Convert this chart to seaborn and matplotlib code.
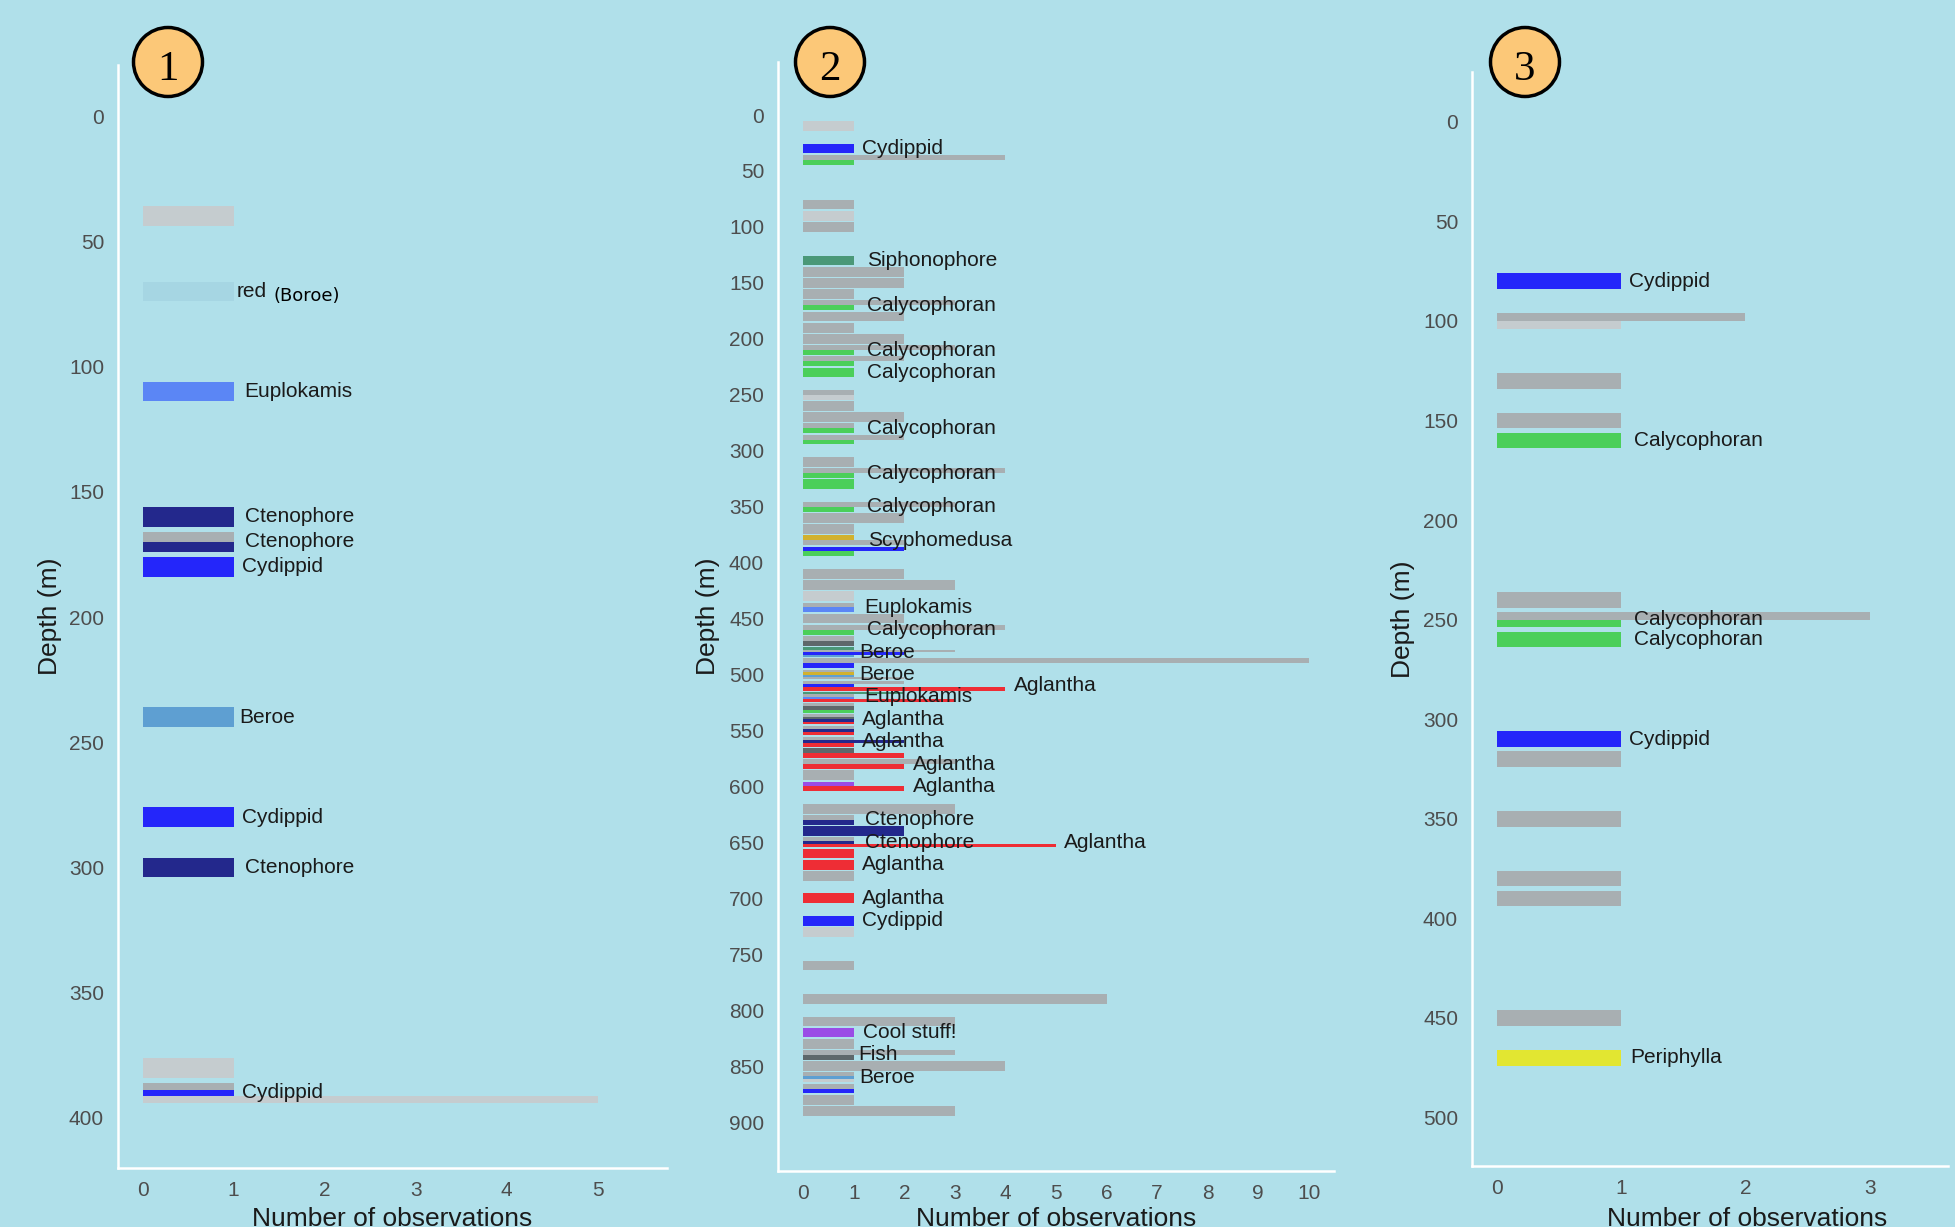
"""
Depth profiles of observations on three dives (panels 1-3).

Each horizontal bar is the number of observations in a depth bin, coloured
by taxon; bins holding several taxa are split (dodged) into thinner bars.
Unidentified / unknown records are grey and carry no label.
"""

import matplotlib
matplotlib.use("Agg")
import matplotlib.pyplot as plt
from matplotlib.patches import Ellipse
import pandas as pd
import seaborn as sns


BG = "#B0E0EA"
INK = "#1A1A1A"
TICK_GREY = "#4D4D4D"

TAXON_COLORS = {
    "Unidentified": "#A8AFB2",
    "Unknown": "#C5CCCF",
    "Fish": "#5E686B",
    "Cydippid": "#2426FA",
    "Calycophoran": "#4BCF5A",
    "Siphonophore": "#4A9878",
    "Ctenophore": "#23288C",
    "Euplokamis": "#5B86F5",
    "Beroe": "#5E9FD2",
    "Boroe": "#A6D6E3",
    "Aglantha": "#EE2D35",
    "Scyphomedusa": "#D2B12E",
    "Cool stuff!": "#9A4DE6",
    "Periphylla": "#E2E631",
}

# ---- dive 1 -------------------------------------------------------------
P1_DEPTH = [40, 70, 110, 160, 170, 170, 180, 240, 280, 300, 380, 390, 390, 390]
P1_COUNT = [1, 1, 1, 1, 1, 1, 1, 1, 1, 1, 1, 1, 1, 5]
P1_TAXON = ["Unknown", "Boroe", "Euplokamis", "Ctenophore", "Unidentified",
            "Ctenophore", "Cydippid", "Beroe", "Cydippid", "Ctenophore",
            "Unknown", "Unidentified", "Cydippid", "Unknown"]
P1_LABEL = ["", "red", "Euplokamis", "Ctenophore", "", "Ctenophore",
            "Cydippid", "Beroe", "Cydippid", "Ctenophore", "", "", "Cydippid", ""]
P1_NOTE = "(Boroe)"

# ---- dive 2 -------------------------------------------------------------
P2_DEPTH = [10, 30, 40, 40, 80, 90, 100, 130, 140, 150, 160, 170, 170, 180,
            190, 200, 210, 210, 220, 220, 230,
            250, 250, 260, 270, 280, 280, 290, 290, 310, 320, 320, 330,
            350, 350, 360, 370, 380, 380, 390, 390,
            410, 420, 430, 440, 440, 450, 460, 460, 470, 470,
            480, 480, 480, 480, 490, 490, 500, 500, 500, 500,
            510, 510, 510, 520, 520, 520, 520, 530, 530, 530,
            540, 540, 540, 540, 550, 550, 550, 560, 560, 560, 570, 570,
            580, 580, 590, 600, 600,
            620, 630, 630, 640, 650, 650, 650, 660, 670, 680, 700,
            720, 730, 760, 790, 810, 820, 830, 840, 840, 850,
            860, 860, 860, 870, 870, 880, 890]
P2_COUNT = [1, 1, 4, 1, 1, 1, 1, 1, 2, 2, 1, 3, 1, 2,
            1, 2, 3, 1, 2, 1, 1,
            1, 1, 1, 2, 1, 1, 2, 1, 1, 4, 1, 1,
            3, 1, 2, 1, 1, 2, 2, 1,
            2, 3, 1, 1, 1, 2, 4, 1, 1, 1,
            1, 3, 2, 1, 10, 1, 1, 1, 1, 2,
            2, 1, 4, 2, 1, 1, 3, 1, 1, 1,
            1, 1, 1, 1, 1, 1, 1, 1, 2, 1, 1, 2,
            3, 2, 1, 1, 2,
            3, 1, 1, 2, 1, 1, 5, 1, 1, 1, 1,
            1, 1, 1, 6, 3, 1, 1, 3, 1, 4,
            1, 1, 1, 1, 1, 1, 3]
P2_TAXON = ["Unknown", "Cydippid", "Unidentified", "Calycophoran",
            "Unidentified", "Unknown", "Unidentified", "Siphonophore",
            "Unidentified", "Unidentified", "Unidentified", "Unidentified",
            "Calycophoran", "Unidentified", "Unidentified", "Unidentified",
            "Unidentified", "Calycophoran", "Unidentified", "Calycophoran",
            "Calycophoran",
            "Unidentified", "Unknown", "Unidentified", "Unidentified",
            "Unidentified", "Calycophoran", "Unidentified", "Calycophoran",
            "Unidentified", "Unidentified", "Calycophoran", "Calycophoran",
            "Unidentified", "Calycophoran", "Unidentified", "Unidentified",
            "Scyphomedusa", "Unidentified", "Cydippid", "Calycophoran",
            "Unidentified", "Unidentified", "Unknown", "Unidentified",
            "Euplokamis", "Unidentified", "Unidentified", "Calycophoran",
            "Unidentified", "Fish",
            "Siphonophore", "Unidentified", "Cydippid", "Beroe",
            "Unidentified", "Cydippid", "Unidentified", "Scyphomedusa",
            "Beroe", "Unidentified",
            "Unidentified", "Cydippid", "Aglantha", "Siphonophore",
            "Unidentified", "Euplokamis", "Aglantha", "Unidentified", "Fish",
            "Calycophoran",
            "Unidentified", "Fish", "Ctenophore", "Aglantha", "Unidentified",
            "Ctenophore", "Aglantha", "Unidentified", "Ctenophore", "Aglantha",
            "Fish", "Aglantha",
            "Unidentified", "Aglantha", "Unidentified", "Cool stuff!", "Aglantha",
            "Unidentified", "Unidentified", "Ctenophore", "Ctenophore",
            "Unidentified", "Ctenophore", "Aglantha", "Aglantha", "Aglantha",
            "Unidentified", "Aglantha",
            "Cydippid", "Unknown", "Unidentified", "Unidentified", "Unidentified",
            "Cool stuff!", "Unidentified", "Unidentified", "Fish", "Unidentified",
            "Unidentified", "Beroe", "Unknown", "Unidentified", "Cydippid",
            "Unidentified", "Unidentified"]
P2_LABEL = ["", "Cydippid", "", "", "", "", "", "Siphonophore", "", "", "", "",
            "Calycophoran", "", "", "", "", "Calycophoran", "", "", "Calycophoran",
            "", "", "", "", "", "Calycophoran", "", "", "", "", "Calycophoran", "",
            "", "Calycophoran", "", "", "Scyphomedusa", "", "", "",
            "", "", "", "", "Euplokamis", "", "", "Calycophoran", "", "",
            "", "", "", "Beroe", "", "", "", "", "Beroe", "",
            "", "", "Aglantha", "", "", "Euplokamis", "", "", "", "",
            "", "", "", "Aglantha", "", "", "", "", "", "Aglantha", "", "",
            "", "Aglantha", "", "", "Aglantha",
            "", "", "Ctenophore", "", "", "Ctenophore", "Aglantha", "",
            "Aglantha", "", "Aglantha",
            "Cydippid", "", "", "", "", "Cool stuff!", "", "", "Fish", "",
            "", "Beroe", "", "", "", "", ""]

# ---- dive 3 -------------------------------------------------------------
P3_DEPTH = [80, 100, 100, 130, 150, 160, 240, 250, 250, 260, 310, 320,
            350, 380, 390, 450, 470]
P3_COUNT = [1, 2, 1, 1, 1, 1, 1, 3, 1, 1, 1, 1, 1, 1, 1, 1, 1]
P3_TAXON = ["Cydippid", "Unidentified", "Unknown", "Unidentified",
            "Unidentified", "Calycophoran", "Unidentified", "Unidentified",
            "Calycophoran", "Calycophoran", "Cydippid", "Unidentified",
            "Unidentified", "Unidentified", "Unidentified", "Unidentified",
            "Periphylla"]
P3_LABEL = ["Cydippid", "", "", "", "", "Calycophoran", "", "", "Calycophoran",
            "Calycophoran", "Cydippid", "", "", "", "", "", "Periphylla"]


# ---- layout (pixels of the 1955 x 1227 output) ----------------------------
W, H = 1955, 1227
PANELS = [
    dict(tag="1", box=(118, 667, 65, 1168), xlim=(-0.27, 5.76), ylim=(420, -20.4),
         xticks=range(0, 6), yticks=range(0, 401, 50), thick=7.9,
         ylab_x=50, xlab_x=392, circle=(168, 62)),
    dict(tag="2", box=(778, 1334, 62, 1171), xlim=(-0.5, 10.5), ylim=(943.7, -47.4),
         xticks=range(0, 11), yticks=range(0, 901, 50), thick=8.7,
         ylab_x=708, xlab_x=1056, circle=(830, 62)),
    dict(tag="3", box=(1472, 1948, 72, 1166), xlim=(-0.2, 3.63), ylim=(524.4, -25),
         xticks=range(0, 4), yticks=range(0, 501, 50), thick=7.9,
         ylab_x=1403, xlab_x=1747, circle=(1525, 62)),
]
XLAB_Y = 1218.5
CIRCLE_R = 34.5


def draw_panel(fig, cfg, depth, count, taxon, label):
    l, r, t, b = cfg["box"]
    ax = fig.add_axes([l / W, 1 - b / H, (r - l) / W, (b - t) / H])
    ax.set_facecolor(BG)

    df = pd.DataFrame({"depth": depth, "count": count,
                       "taxon": taxon, "label": label})
    grp = df.groupby("depth", sort=False)
    n_in_bin = grp["depth"].transform("size")
    k_in_bin = grp.cumcount()
    df["h"] = cfg["thick"] / n_in_bin
    df["pos"] = df["depth"] - cfg["thick"] / 2 + (k_in_bin + 0.5) * df["h"]

    ax.barh(df["pos"], df["count"], height=df["h"], left=0,
            color=df["taxon"].map(TAXON_COLORS), linewidth=0)

    texts = []
    for _, row in df[df["label"] != ""].iterrows():
        txt = ax.annotate(row["label"], xy=(row["count"], row["depth"]),
                          xytext=(0, 0), textcoords="offset pixels",
                          ha="left", va="center", fontsize=15, color=INK)
        texts.append(txt)

    ax.set_xlim(*cfg["xlim"])
    ax.set_ylim(*cfg["ylim"])
    ax.set_xticks(list(cfg["xticks"]))
    ax.set_yticks(list(cfg["yticks"]))
    ax.tick_params(axis="both", length=0, labelsize=15, labelcolor=TICK_GREY)
    ax.tick_params(axis="y", pad=10)
    ax.tick_params(axis="x", pad=9.5)

    sns.despine(ax=ax)
    for side in ("left", "bottom"):
        ax.spines[side].set_color("white")
        ax.spines[side].set_linewidth(1.8)

    ax.set_ylabel("Depth (m)", fontsize=19, color=INK)
    ax.set_xlabel("Number of observations", fontsize=19, color=INK)
    ax.yaxis.label.set_va("center")
    ax.xaxis.label.set_va("center")
    ax.yaxis.set_label_coords((cfg["ylab_x"] - l) / (r - l), 0.5)
    ax.xaxis.set_label_coords((cfg["xlab_x"] - l) / (r - l),
                              (b - XLAB_Y) / (b - t))

    # numbered badge above the panel
    cx, cy = cfg["circle"]
    fig.add_artist(Ellipse((cx / W, 1 - cy / H), 2 * CIRCLE_R / W, 2 * CIRCLE_R / H,
                           transform=fig.transFigure, facecolor="#FCC878",
                           edgecolor="black", linewidth=2.5))
    fig.text(cx / W, 1 - (cy + 18.5) / H, cfg["tag"], ha="center", va="baseline",
             fontsize=31, family=["Liberation Serif", "DejaVu Serif"], color="black")
    return ax, texts


sns.set_theme(style="white")
plt.rcParams["font.family"] = ["Liberation Sans", "DejaVu Sans"]

fig = plt.figure(figsize=(W / 100, H / 100), dpi=100, facecolor=BG)

ax1, t1 = draw_panel(fig, PANELS[0], P1_DEPTH, P1_COUNT, P1_TAXON, P1_LABEL)
ax2, t2 = draw_panel(fig, PANELS[1], P2_DEPTH, P2_COUNT, P2_TAXON, P2_LABEL)
ax3, t3 = draw_panel(fig, PANELS[2], P3_DEPTH, P3_COUNT, P3_TAXON, P3_LABEL)

# ggplot-style hjust = -0.1: push each label right by a tenth of its width
fig.canvas.draw()
for txt in t1 + t2 + t3:
    w = txt.get_window_extent().width
    txt.xyann = (0.1 * w, 0)

# the "red" label on dive 1 carries a hand-written note after it
red = [t for t in t1 if t.get_text() == "red"][0]
w_red = red.get_window_extent().width
ax1.annotate(P1_NOTE, xy=red.xy, xytext=(1.1 * w_red + 7, -5),
             textcoords="offset pixels", ha="left", va="center",
             fontsize=13, family="DejaVu Sans", color="black")

fig.savefig("out.png", dpi=100, facecolor=BG)
plt.close(fig)
